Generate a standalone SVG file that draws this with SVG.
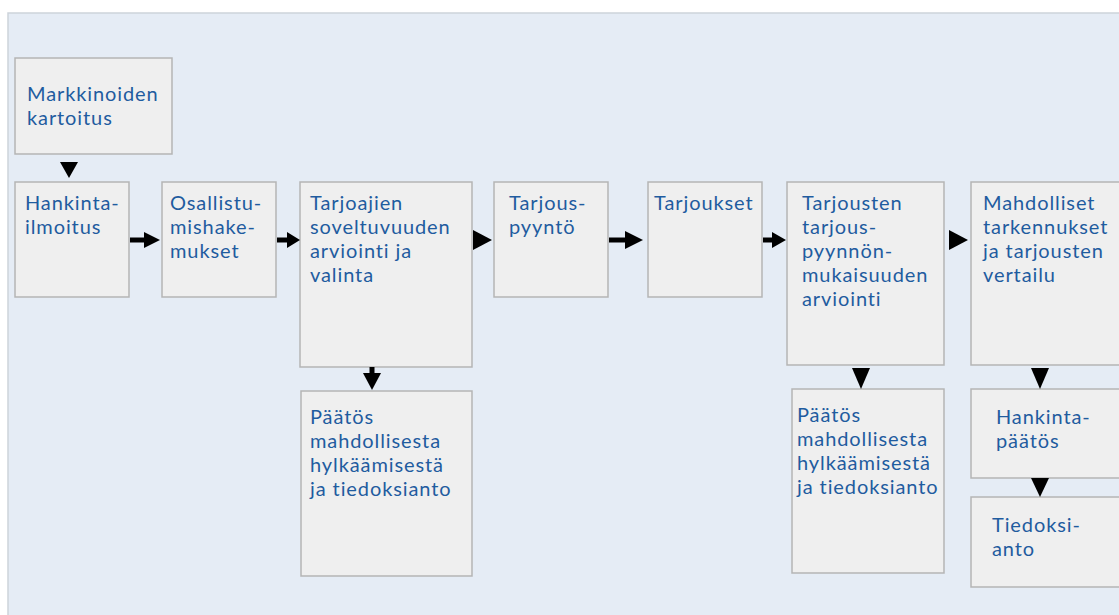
<svg xmlns="http://www.w3.org/2000/svg" width="1119" height="615" viewBox="0 0 1119 615">
<style>
.bg{fill:#e5ecf5;stroke:#cdd3da;stroke-width:1.5}
.box{fill:#efefef;stroke:#b5b5b5;stroke-width:1.5}
.t{font-family:Lato,"Open Sans","Liberation Sans",sans-serif;font-size:20px;letter-spacing:0.9px;fill:#1f5c9f}
.sh{stroke:#000;stroke-width:5;fill:none}
.ah{fill:#000}
</style>
<rect x="0" y="0" width="1119" height="615" fill="#ffffff"/>
<rect class="bg" x="8" y="13" width="1120" height="610"/>
<g id="n-markkinoiden"><rect class="box" x="15" y="58" width="157" height="96"/><text class="t" x="27" y="101">Markkinoiden</text><text class="t" x="27" y="125">kartoitus</text></g>
<g id="n-hankinta"><rect class="box" x="15" y="182" width="114" height="115"/><text class="t" x="25" y="210">Hankinta-</text><text class="t" x="25" y="234">ilmoitus</text></g>
<g id="n-osallistu"><rect class="box" x="162" y="182" width="114" height="115"/><text class="t" x="170" y="210">Osallistu-</text><text class="t" x="170" y="234">mishake-</text><text class="t" x="170" y="258">mukset</text></g>
<g id="n-tarjoajien"><rect class="box" x="300" y="182" width="172" height="185"/><text class="t" x="310" y="210">Tarjoajien</text><text class="t" x="310" y="234">soveltuvuuden</text><text class="t" x="310" y="258">arviointi ja</text><text class="t" x="310" y="282">valinta</text></g>
<g id="n-tarjouspyynto"><rect class="box" x="494" y="182" width="114" height="115"/><text class="t" x="509" y="210">Tarjous-</text><text class="t" x="509" y="234">pyyntö</text></g>
<g id="n-tarjoukset"><rect class="box" x="648" y="182" width="114" height="115"/><text class="t" x="654" y="210">Tarjoukset</text></g>
<g id="n-tarjousten"><rect class="box" x="787" y="182" width="157" height="183"/><text class="t" x="802" y="210">Tarjousten</text><text class="t" x="802" y="234">tarjous-</text><text class="t" x="802" y="258">pyynnön-</text><text class="t" x="802" y="282">mukaisuuden</text><text class="t" x="802" y="306">arviointi</text></g>
<g id="n-mahdolliset"><rect class="box" x="971" y="182" width="160" height="183"/><text class="t" x="983" y="210">Mahdolliset</text><text class="t" x="983" y="234">tarkennukset</text><text class="t" x="983" y="258">ja tarjousten</text><text class="t" x="983" y="282">vertailu</text></g>
<g id="n-paatos1"><rect class="box" x="301" y="391" width="171" height="185"/><text class="t" x="310" y="424">Päätös</text><text class="t" x="310" y="448">mahdollisesta</text><text class="t" x="310" y="472">hylkäämisestä</text><text class="t" x="310" y="496">ja tiedoksianto</text></g>
<g id="n-paatos2"><rect class="box" x="792" y="389" width="152" height="184"/><text class="t" x="797" y="422">Päätös</text><text class="t" x="797" y="446">mahdollisesta</text><text class="t" x="797" y="470">hylkäämisestä</text><text class="t" x="797" y="494">ja tiedoksianto</text></g>
<g id="n-hankintapaatos"><rect class="box" x="971" y="389" width="160" height="89"/><text class="t" x="996" y="424">Hankinta-</text><text class="t" x="996" y="448">päätös</text></g>
<g id="n-tiedoksianto"><rect class="box" x="971" y="497" width="160" height="90"/><text class="t" x="992" y="532">Tiedoksi-</text><text class="t" x="992" y="556">anto</text></g>
<g id="connectors">
<polygon class="ah" points="60,162 78,162 69,178"/>
<line class="sh" x1="130" y1="240" x2="146" y2="240"/><polygon class="ah" points="144,232 160,240 144,248"/>
<line class="sh" x1="277" y1="240" x2="289" y2="240"/><polygon class="ah" points="287,232 300,240 287,248"/>
<polygon class="ah" points="473,230 492,240 473,250"/>
<line class="sh" x1="609" y1="240" x2="627" y2="240"/><polygon class="ah" points="625,231 643,240 625,249"/>
<line class="sh" x1="763" y1="240" x2="774" y2="240"/><polygon class="ah" points="772,232 786,240 772,248"/>
<polygon class="ah" points="949,230 968,240 949,250"/>
<line class="sh" x1="372" y1="367" x2="372" y2="375"/><polygon class="ah" points="363,373 381,373 372,390"/>
<polygon class="ah" points="852,368 870,368 861,389"/>
<polygon class="ah" points="1031,368 1049,368 1040,389"/>
<polygon class="ah" points="1031,478 1049,478 1040,497"/>
</g>
</svg>
